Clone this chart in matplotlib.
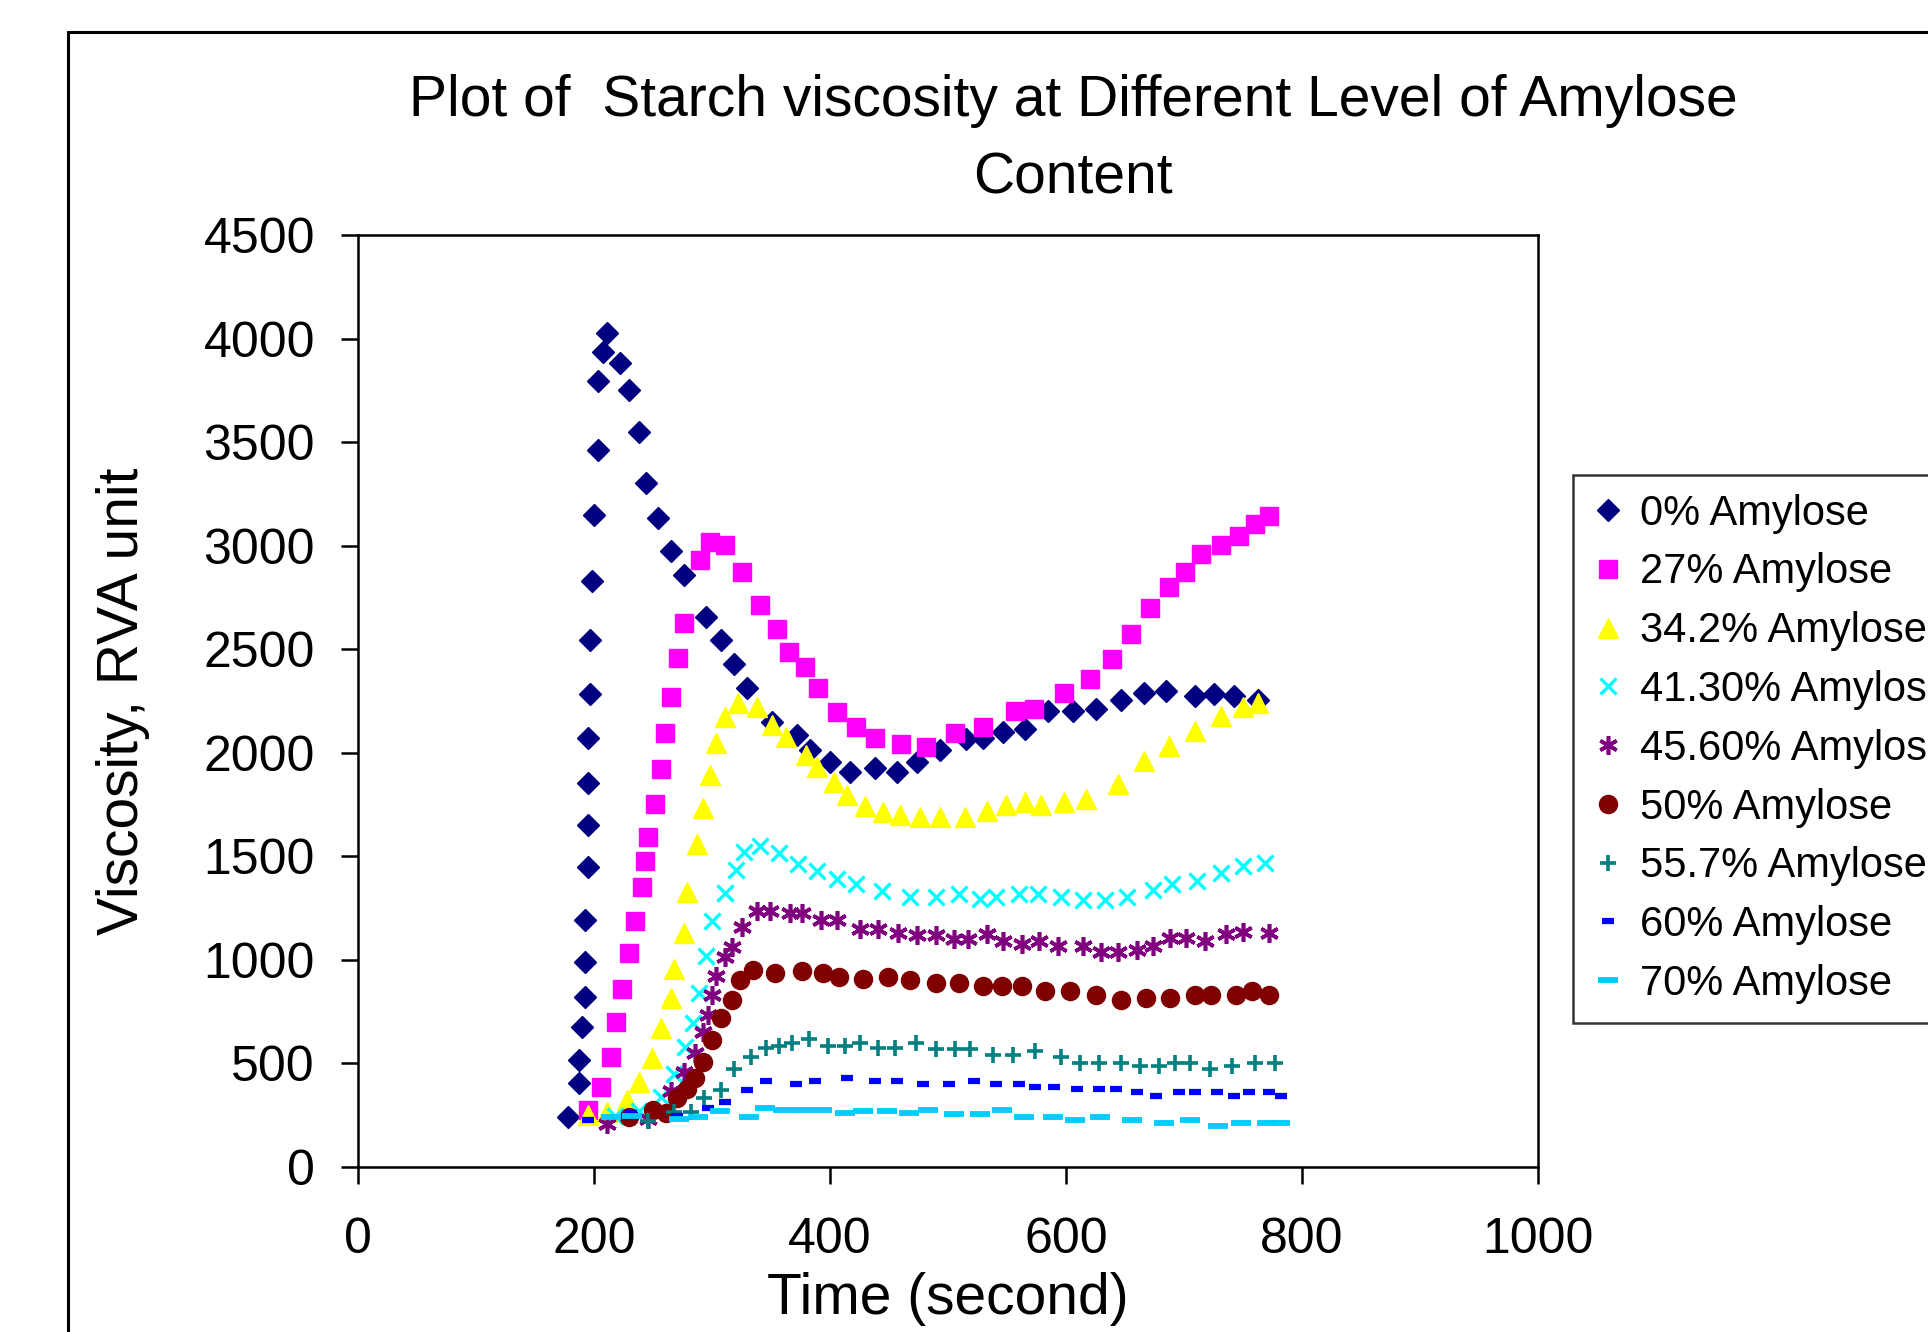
"""Starch viscosity (RVA) vs time at different amylose levels."""
import matplotlib
matplotlib.use("Agg")
import matplotlib.pyplot as plt
from matplotlib.patches import Rectangle

plt.rcParams["font.family"] = ["Liberation Sans", "DejaVu Sans"]

# ---- data ----
t_0 = [178, 187, 187, 190, 192, 192, 192, 195, 195, 195, 195, 197, 197, 198, 200, 203, 203, 208, 211,
       222, 230, 238, 244, 254, 265, 276, 295, 308, 319, 330, 351, 372, 383, 400, 417, 438, 457, 474,
       493, 515, 530, 547, 565, 585, 606, 625, 647, 666, 685, 709, 725, 742, 763]
v_0 = [243, 404, 517, 675, 822, 991, 1193, 1450, 1651, 1853, 2070, 2284, 2543, 2830, 3147, 3462, 3794,
       3937, 4025, 3881, 3752, 3549, 3304, 3132, 2974, 2859, 2657, 2543, 2429, 2314, 2150, 2086, 2013,
       1957, 1909, 1925, 1909, 1957, 2013, 2067, 2071, 2099, 2114, 2200, 2200, 2211, 2257, 2287, 2300,
       2272, 2283, 2272, 2257]

t_27 = [195, 206, 214, 219, 224, 230, 235, 241, 243, 246, 252, 257, 260, 265, 271, 276, 290, 298, 311,
        325, 341, 355, 365, 379, 390, 406, 422, 438, 460, 481, 506, 530, 557, 573, 598, 620, 639, 655,
        671, 687, 701, 714, 731, 747, 760, 772]
v_27 = [275, 388, 530, 700, 861, 1035, 1189, 1350, 1479, 1595, 1751, 1922, 2097, 2271, 2456, 2628,
        2931, 3016, 3003, 2875, 2715, 2599, 2487, 2414, 2313, 2199, 2126, 2070, 2041, 2028, 2095, 2125,
        2200, 2213, 2287, 2356, 2455, 2574, 2699, 2800, 2875, 2961, 3005, 3048, 3106, 3145]

t_34 = [195, 211, 228, 238, 249, 257, 265, 268, 276, 279, 287, 292, 298, 303, 311, 322, 338, 351, 363,
        380, 389, 403, 414, 430, 445, 459, 476, 493, 514, 533, 549, 565, 579, 598, 617, 644, 666, 687,
        709, 731, 750, 763]
v_34 = [251, 267, 323, 412, 525, 670, 815, 956, 1128, 1329, 1558, 1732, 1893, 2046, 2174, 2239, 2223,
        2134, 2075, 1989, 1933, 1860, 1796, 1743, 1716, 1700, 1690, 1690, 1690, 1718, 1750, 1761, 1748,
        1761, 1776, 1847, 1959, 2035, 2106, 2179, 2222, 2239]

t_41 = [218, 238, 257, 268, 277, 284, 289, 295, 300, 311, 320, 327, 341, 357, 373, 389, 406, 422, 444,
        468, 490, 509, 527, 541, 560, 576, 596, 614, 633, 652, 674, 690, 711, 731, 750, 769]
v_41 = [245, 270, 337, 450, 577, 694, 842, 1019, 1189, 1322, 1434, 1523, 1550, 1518, 1463, 1431, 1389,
        1365, 1333, 1303, 1302, 1317, 1295, 1302, 1317, 1317, 1302, 1291, 1291, 1306, 1338, 1366, 1381,
        1420, 1452, 1468]

t_45 = [211, 246, 265, 276, 286, 292, 297, 300, 303, 311, 317, 325, 338, 349, 366, 376, 392, 406, 425,
        441, 458, 474, 490, 505, 517, 533, 547, 563, 577, 593, 614, 630, 644, 660, 674, 688, 702, 718,
        736, 750, 772]
v_45 = [208, 232, 368, 460, 552, 653, 734, 831, 922, 1015, 1064, 1160, 1236, 1236, 1225, 1225, 1193,
        1193, 1148, 1148, 1130, 1118, 1118, 1101, 1101, 1123, 1090, 1075, 1090, 1065, 1065, 1037, 1037,
        1050, 1065, 1108, 1108, 1090, 1123, 1136, 1129]

t_50 = [230, 250, 261, 270, 279, 286, 292, 300, 308, 317, 324, 335, 353, 376, 394, 408, 428, 449, 468,
        490, 509, 530, 546, 563, 582, 603, 625, 647, 668, 688, 709, 723, 744, 758, 772]
v_50 = [240, 277, 259, 332, 376, 432, 506, 615, 718, 806, 905, 950, 935, 948, 935, 919, 906, 919, 905,
        888, 888, 875, 875, 875, 849, 849, 832, 806, 817, 817, 832, 832, 832, 849, 832]

t_55 = [246, 268, 282, 293, 308, 319, 333, 346, 357, 368, 382, 398, 413, 425, 441, 455, 473, 490, 506,
        519, 538, 555, 574, 596, 612, 628, 647, 663, 679, 692, 705, 722, 741, 760, 777]
v_55 = [220, 267, 264, 332, 373, 472, 530, 573, 586, 600, 617, 586, 584, 597, 573, 574, 598, 569, 569,
        569, 543, 543, 558, 530, 500, 500, 500, 487, 487, 500, 500, 472, 487, 504, 504]

t_60 = [195, 231, 270, 297, 311, 330, 346, 371, 387, 414, 438, 457, 479, 501, 522, 541, 560, 574, 590,
        609, 628, 642, 660, 676, 696, 709, 728, 742, 755, 772, 782]
v_60 = [228, 262, 245, 287, 315, 372, 416, 401, 416, 431, 417, 416, 401, 401, 414, 401, 401, 386, 386,
        375, 375, 375, 360, 343, 360, 360, 360, 343, 360, 360, 343]

t_70 = [214, 232, 272, 288, 307, 331, 345, 360, 376, 393, 413, 428, 448, 467, 483, 505, 527, 546, 564,
        589, 608, 629, 656, 683, 705, 729, 748, 770, 781]
v_70 = [240, 246, 230, 240, 271, 240, 285, 273, 273, 273, 259, 270, 270, 260, 273, 256, 256, 273, 241,
        241, 228, 241, 228, 213, 228, 198, 213, 213, 213]

labels = ["0% Amylose", "27% Amylose", "34.2% Amylose", "41.30% Amylose", "45.60% Amylose",
          "50% Amylose", "55.7% Amylose", "60% Amylose", "70% Amylose"]

series = [
    (t_0, v_0, dict(marker="D", ms=11.5, color="#000080", mec="#000080")),
    (t_27, v_27, dict(marker="s", ms=13.5, color="#FF00FF", mec="#FF00FF")),
    (t_34, v_34, dict(marker="^", ms=15, color="#FFFF00", mec="#FFFF00")),
    (t_41, v_41, dict(marker="x", ms=12, mew=2.4, color="#00FFFF")),
    (t_45, v_45, dict(marker=(6, 2, 0), ms=13.5, mew=2.6, color="#800080")),
    (t_50, v_50, dict(marker="o", ms=13, color="#800000", mec="#800000")),
    (t_55, v_55, dict(marker="+", ms=12, mew=2.6, color="#008080")),
    (t_60, v_60, dict(marker="_", ms=8, mew=4.5, color="#0000FF")),
    (t_70, v_70, dict(marker="_", ms=15, mew=4.2, color="#00CCFF")),
]

fig = plt.figure(figsize=(19.28, 13.32), dpi=100)
ax = fig.add_axes([358 / 1928, 1 - 1167 / 1332, 1180 / 1928, 932 / 1332])

for (t, v, style), lab in zip(series, labels):
    ax.plot(t, v, linestyle="none", label=lab, clip_on=False, **style)

ax.set_xlim(0, 1000)
ax.set_ylim(0, 4500)
ax.set_xticks(range(0, 1001, 200))
ax.set_yticks(range(0, 4501, 500))
for s in ax.spines.values():
    s.set_linewidth(1.8)
ax.tick_params(axis="both", direction="out", length=12, width=1.8, labelsize=36)
ax.tick_params(axis="y", pad=19)
ax.tick_params(axis="x", pad=24)

ax.set_xlabel("Time (second)", fontsize=41)
ax.set_ylabel("Viscosity, RVA unit", fontsize=41)
ax.xaxis.set_label_coords(0.5, (1167 - 1299) / 932)
ax.xaxis.label.set_va("center")
ax.yaxis.set_label_coords((123 - 358) / 1180, 0.5)
ax.yaxis.label.set_va("center")

fig.text(1073 / 1928, 1 - 140 / 1332,
         "Plot of  Starch viscosity at Different Level of Amylose\nContent",
         ha="center", va="center", multialignment="center", fontsize=41,
         linespacing=1.55)

leg = ax.legend(loc="upper left", bbox_to_anchor=(1573 / 1928, 1 - 475 / 1332),
                bbox_transform=fig.transFigure, borderaxespad=0, fontsize=30,
                frameon=True, fancybox=False, edgecolor="black", numpoints=1,
                handlelength=0.8, handletextpad=0.35, labelspacing=0.45,
                borderpad=0.45)
leg.get_frame().set_linewidth(1.8)

# outer chart-area border (runs off the right and bottom edges)
fig.patches.append(Rectangle((68 / 1928, -0.2), 1.5, 0.2 + (1 - 32 / 1332),
                             transform=fig.transFigure, fill=False,
                             edgecolor="black", linewidth=2.2))

fig.savefig("out.png", dpi=100)
